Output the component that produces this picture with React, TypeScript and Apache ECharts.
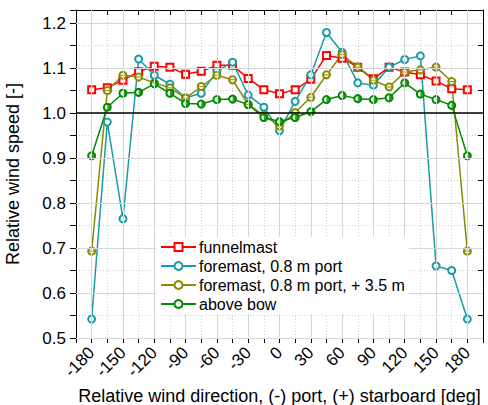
import React, { useEffect, useRef } from "react";
import * as echarts from "echarts";

const angles = [-180, -165, -150, -135, -120, -105, -90, -75, -60, -45, -30, -15, 0, 15, 30, 45, 60, 75, 90, 105, 120, 135, 150, 165, 180];
const funnelmast = [1.052, 1.056, 1.073, 1.092, 1.104, 1.102, 1.086, 1.093, 1.106, 1.106, 1.077, 1.052, 1.043, 1.052, 1.075, 1.128, 1.122, 1.102, 1.076, 1.102, 1.091, 1.085, 1.071, 1.054, 1.052];
const foremast = [0.542, 0.980, 0.765, 1.120, 1.084, 1.064, 1.034, 1.044, 1.093, 1.113, 1.040, 1.013, 0.961, 1.026, 1.085, 1.179, 1.135, 1.067, 1.062, 1.102, 1.119, 1.127, 0.660, 0.650, 0.542];
const foremastRaised = [0.693, 1.050, 1.084, 1.080, 1.067, 1.056, 1.033, 1.059, 1.084, 1.074, 1.019, 0.995, 0.971, 1.001, 1.035, 1.085, 1.130, 1.102, 1.073, 1.058, 1.091, 1.096, 1.102, 1.070, 0.693];
const aboveBow = [0.905, 1.013, 1.044, 1.046, 1.065, 1.044, 1.021, 1.020, 1.030, 1.031, 1.019, 0.990, 0.981, 0.990, 1.003, 1.030, 1.039, 1.032, 1.030, 1.034, 1.067, 1.042, 1.030, 1.017, 0.905];

const xMajorTicks = [-180, -150, -120, -90, -60, -30, 0, 30, 60, 90, 120, 150, 180];
const yMajorTicks = [0.5, 0.6, 0.7, 0.8, 0.9, 1.0, 1.1, 1.2];

const seriesNames = ["funnelmast", "foremast, 0.8 m port", "foremast, 0.8 m port, + 3.5 m", "above bow"];

const FONT = "Liberation Sans, Arial, Helvetica, sans-serif";
const RED = "#ff0000";
const TEAL = "#1a9ba6";
const OLIVE = "#8a8a00";
const GREEN = "#008a00";

function pairs(vals: number[]) {
  return angles.map((a, i) => [a, vals[i]]);
}

export default function App() {
  const ref = useRef<HTMLDivElement>(null);
  useEffect(() => {
    if (!ref.current) return;
    const chart = echarts.init(ref.current, null, { renderer: "svg" });
    const xBase = { type: "value", min: -195, max: 195, interval: 15 };
    const yBase = { type: "value", min: 0.5, max: 1.229, interval: 0.05 };
    const lineSeries = (name: string, vals: number[], color: string, symbol: string) => ({
      name,
      type: "line",
      data: pairs(vals),
      symbol,
      symbolSize: 7,
      showSymbol: true,
      lineStyle: { color, width: 1.5 },
      itemStyle: { color, borderColor: color, borderWidth: 1.2 },
      z: 3,
    });
    chart.setOption({
      animation: false,
      backgroundColor: "#ffffff",
      textStyle: { fontFamily: FONT },
      grid: { left: 76, right: 5, top: 10, bottom: 67, containLabel: false, outerBoundsMode: "none" },
      legend: {
        data: seriesNames,
        orient: "vertical",
        left: 156,
        top: 237,
        itemWidth: 35,
        itemHeight: 10,
        itemGap: 3,
        padding: [2, 4, 2, 4],
        backgroundColor: "#ffffff",
        textStyle: { fontSize: 16, color: "#000", fontFamily: FONT, padding: [0, 0, 0, -2] },
        z: 10,
      },
      xAxis: [
        {
          ...xBase,
          position: "bottom",
          name: "Relative wind direction, (-) port, (+) starboard [deg]",
          nameLocation: "middle",
          nameGap: 46,
          nameTextStyle: { fontSize: 18, color: "#000", fontFamily: FONT },
          axisLine: { show: true, onZero: false, lineStyle: { color: "#000", width: 1 } },
          axisTick: { show: true, inside: false, length: 5, lineStyle: { color: "#000" } },
          axisLabel: {
            rotate: 45,
            margin: 12,
            fontSize: 17,
            color: "#000",
            fontFamily: FONT,
            formatter: (v: number) => (v % 30 === 0 && Math.abs(v) <= 180 ? String(v) : ""),
          },
          splitLine: { show: true, lineStyle: { color: "#cfcfcf", type: [1, 2], width: 1 } },
        },
        {
          ...xBase,
          position: "top",
          axisLine: { show: true, onZero: false, lineStyle: { color: "#000", width: 1 } },
          axisTick: { show: true, inside: true, length: 5, lineStyle: { color: "#000" } },
          axisLabel: { show: false },
          splitLine: { show: false },
        },
      ],
      yAxis: [
        {
          ...yBase,
          position: "left",
          name: "Relative wind speed [-]",
          nameLocation: "middle",
          nameGap: 54,
          nameTextStyle: { fontSize: 18, color: "#000", fontFamily: FONT },
          axisLine: { show: true, onZero: false, lineStyle: { color: "#000", width: 1 } },
          axisTick: { show: true, inside: false, length: 6, lineStyle: { color: "#000" } },
          axisLabel: {
            margin: 10,
            fontSize: 17,
            color: "#000",
            fontFamily: FONT,
            formatter: (v: number) =>
              Math.abs(v * 10 - Math.round(v * 10)) < 1e-6 && v <= 1.2001 ? v.toFixed(1) : "",
          },
          splitLine: { show: true, lineStyle: { color: "#cfcfcf", type: [1, 2], width: 1 } },
        },
        {
          ...yBase,
          position: "right",
          axisLine: { show: true, onZero: false, lineStyle: { color: "#000", width: 1 } },
          axisTick: { show: true, inside: true, length: 5, lineStyle: { color: "#000" } },
          axisLabel: { show: false },
          splitLine: { show: false },
        },
      ],
      series: [
        {
          name: "grid-helper",
          type: "line",
          data: [[0, 1.0]],
          showSymbol: false,
          symbol: "none",
          lineStyle: { opacity: 0 },
          silent: true,
          z: 1,
          markLine: {
            silent: true,
            symbol: ["none", "none"],
            label: { show: false },
            lineStyle: { color: "#d6d6d6", type: "solid", width: 1 },
            data: [
              ...xMajorTicks.map((x) => ({ xAxis: x })),
              ...yMajorTicks.map((y) => ({ yAxis: y })),
            ],
          },
        },
        {
          name: "unity",
          type: "line",
          data: [[0, 1.0]],
          showSymbol: false,
          symbol: "none",
          lineStyle: { opacity: 0 },
          silent: true,
          z: 2,
          markLine: {
            silent: true,
            symbol: ["none", "none"],
            label: { show: false },
            lineStyle: { color: "#000", type: "solid", width: 1.6 },
            data: [{ yAxis: 1.0 }],
          },
        },
        lineSeries(seriesNames[0], funnelmast, RED, "emptyRect"),
        lineSeries(seriesNames[1], foremast, TEAL, "emptyCircle"),
        lineSeries(seriesNames[2], foremastRaised, OLIVE, "emptyCircle"),
        lineSeries(seriesNames[3], aboveBow, GREEN, "emptyCircle"),
        {
          name: "olive-bar",
          type: "scatter",
          data: pairs(foremastRaised),
          symbol: "rect",
          symbolSize: [6, 1.3],
          itemStyle: { color: OLIVE },
          silent: true,
          z: 4,
        },
        {
          name: "green-half",
          type: "scatter",
          data: pairs(aboveBow),
          symbol: "path://M0,0 A10,10 0 0,1 0,20 Z",
          symbolSize: [3.5, 7],
          symbolOffset: [1.75, 0],
          itemStyle: { color: GREEN },
          silent: true,
          z: 4,
        },
      ],
    });
    return () => chart.dispose();
  }, []);
  return <div ref={ref} style={{ width: 488, height: 405, position: "absolute", left: 0, top: 0 }} />;
}
